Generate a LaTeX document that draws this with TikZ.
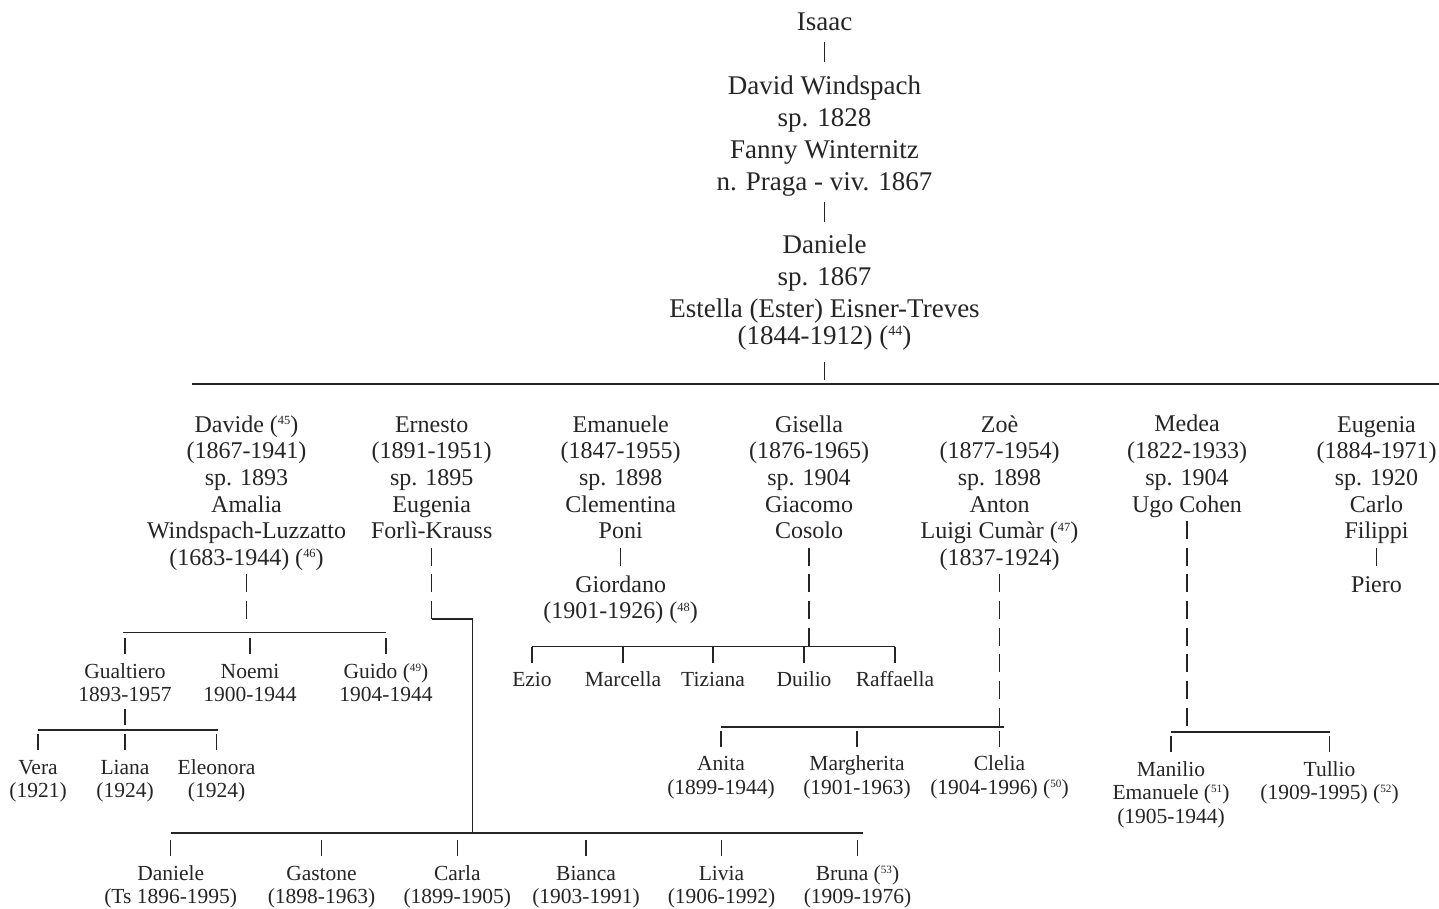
\documentclass[tikz,border=0pt]{standalone}
\usepackage{fontspec}
\setmainfont{Liberation Serif}
\usepackage{graphicx}
% keep every line of a stacked name on the same baseline grid
\setlength{\lineskiplimit}{-100pt}
% footnote call: small raised number between normal parentheses
\newcommand\fn[1]{(\raisebox{0.32em}{\scalebox{0.52}{#1}})}
% struts make the top and bottom of every name block predictable
\newcommand\who[1]{\strut#1\strut}
\definecolor{ink}{RGB}{38,36,37}
\begin{document}
\begin{tikzpicture}[x=1pt,y=-1pt,
  person/.style={anchor=north, align=center, inner sep=0pt, outer sep=0pt, text=ink},
  gentop/.style={person, font=\fontsize{27}{32}\selectfont},
  genmid/.style={person, font=\fontsize{24}{26.7}\selectfont},
  genlow/.style={person, font=\fontsize{21.5}{23.6}\selectfont},
  rule/.style={draw=ink, line width=1.25pt},
  pipes/.style={rule, dash pattern=on 18pt off 8.7pt},
  tick/.style={rule, shorten >=7.1pt}]
\useasboundingbox (0,0) rectangle (1439,908);

% ---------- ancestors ----------
\node[gentop] (isaac)   at (824.5,7.6)   {\who{Isaac}};
\node[gentop] (david)   at (824.5,71.6)  {\who{David Windspach\\sp. 1828\\Fanny Winternitz\\n. Praga - viv. 1867}};
\node[gentop] (daniele) at (824.5,231.1) {\who{Daniele\\sp. 1867\\Estella (Ester) Eisner-Treves\\[-5pt](1844-1912) \fn{44}}};

\coordinate (topL) at (192,384);
\coordinate (topR) at (1439,384);

\draw[rule, shorten <=2.4pt, shorten >=9.6pt] (isaac.south) -- (isaac.south |- david.north);
\draw[rule, shorten <=2.6pt, shorten >=9.1pt] (david.south) -- (david.south |- daniele.north);
\draw[rule, shorten <=8pt, shorten >=4pt] (daniele.south) -- (daniele.south |- topL);
\draw[rule] (topL) -- (topR);

% ---------- children of Daniele ----------
\node[genmid] (davide)   at (246.5,413.3)  {\who{Davide \fn{45}\\(1867-1941)\\sp. 1893\\Amalia\\Windspach-Luzzatto\\(1683-1944) \fn{46}}};
\node[genmid] (ernesto)  at (431.7,413.3)  {\who{Ernesto\\(1891-1951)\\sp. 1895\\Eugenia\\Forlì-Krauss}};
\node[genmid] (emanuele) at (620.7,413.3)  {\who{Emanuele\\(1847-1955)\\sp. 1898\\Clementina\\Poni}};
\node[genmid] (giordano) at (620.7,573.5)  {\who{Giordano\\(1901-1926) \fn{48}}};
\node[genmid] (gisella)  at (809,413.3)    {\who{Gisella\\(1876-1965)\\sp. 1904\\Giacomo\\Cosolo}};
\node[genmid] (zoe)      at (999.5,413.3)  {\who{Zoè\\(1877-1954)\\sp. 1898\\Anton\\Luigi Cumàr \fn{47}\\(1837-1924)}};
\node[genmid] (medea)    at (1187,413.3)   {\who{Medea\\(1822-1933)\\sp. 1904\\Ugo Cohen}};
\node[genmid] (eugenia)  at (1376.5,413.3) {\who{Eugenia\\(1884-1971)\\sp. 1920\\Carlo\\Filippi}};
\node[genmid] (piero)    at (1376.5,573.5) {\who{Piero}};

% family bars
\coordinate (dvL) at (123,632.7);   \coordinate (dvR) at (386,632.7);
\coordinate (guL) at (38,730);      \coordinate (guR) at (218,730);
\coordinate (giL) at (532,646.7);   \coordinate (giR) at (895,646.7);
\coordinate (zoL) at (721,727);     \coordinate (zoR) at (1003.5,727);
\coordinate (meL) at (1171,732);    \coordinate (meR) at (1330,732);
\coordinate (kiL) at (170.7,833);   \coordinate (kiR) at (862.7,833);
\coordinate (ernbend) at (431.7,618.9);
\coordinate (ernturn) at (472.7,618.9);

\foreach \a/\b in {dvL/dvR, guL/guR, giL/giR, zoL/zoR, meL/meR, kiL/kiR}
  \draw[rule] (\a) -- (\b);

% descent lines
\draw[pipes, shorten <=0.7pt, shorten >=13.8pt] (davide.south) -- (davide.south |- dvL);
\draw[pipes, shorten <=0.7pt] (ernesto.south) -- (ernbend);
\draw[rule] (ernbend) -- (ernturn) -- (ernturn |- kiL);
\draw[rule, shorten <=0.7pt, shorten >=8pt] (emanuele.south) -- (emanuele.south |- giordano.north);
\draw[pipes, shorten <=0.7pt, shorten >=1.1pt] (gisella.south) -- (gisella.south |- giL);
\draw[pipes, shorten <=0.7pt, shorten >=1.3pt] (zoe.south) -- (zoe.south |- zoL);
\draw[pipes, shorten <=0.7pt, shorten >=6.3pt] (medea.south) -- (medea.south |- meL);
\draw[rule, shorten <=0.7pt, shorten >=8pt] (eugenia.south) -- (eugenia.south |- piero.north);

% ---------- grandchildren ----------
\node[genlow] (gualtiero) at (125,661.5) {\who{Gualtiero\\1893-1957}};
\node[genlow] (noemi)     at (250,661.5) {\who{Noemi\\1900-1944}};
\node[genlow] (guido)     at (386,661.5) {\who{Guido \fn{49}\\1904-1944}};

\node[genlow] (vera)     at (38,757.5)    {\who{Vera\\(1921)}};
\node[genlow] (liana)    at (125,757.5)   {\who{Liana\\(1924)}};
\node[genlow] (eleonora) at (216.5,757.5) {\who{Eleonora\\(1924)}};

\node[genlow] (ezio)      at (532,670.2) {\who{Ezio}};
\node[genlow] (marcella)  at (623,670.2) {\who{Marcella}};
\node[genlow] (tiziana)   at (713,670.2) {\who{Tiziana}};
\node[genlow] (duilio)    at (804,670.2) {\who{Duilio}};
\node[genlow] (raffaella) at (895,670.2) {\who{Raffaella}};

\node[genlow] (anita)      at (721,754.2)   {\who{Anita\\(1899-1944)}};
\node[genlow] (margherita) at (857,754.2)   {\who{Margherita\\(1901-1963)}};
\node[genlow] (clelia)     at (999.5,754.2) {\who{Clelia\\(1904-1996) \fn{50}}};

\node[genlow] (manilio) at (1171,759.5)   {\who{Manilio\\Emanuele \fn{51}\\(1905-1944)}};
\node[genlow] (tullio)  at (1329.5,759.5) {\who{Tullio\\(1909-1995) \fn{52}}};

\node[genlow] (danielekid) at (170.7,863.5) {\who{Daniele\\(Ts 1896-1995)}};
\node[genlow] (gastone)    at (321.5,863.5) {\who{Gastone\\(1898-1963)}};
\node[genlow] (carla)      at (457.3,863.5) {\who{Carla\\(1899-1905)}};
\node[genlow] (bianca)     at (586,863.5)   {\who{Bianca\\(1903-1991)}};
\node[genlow] (livia)      at (721.5,863.5) {\who{Livia\\(1906-1992)}};
\node[genlow] (bruna)      at (857.5,863.5) {\who{Bruna \fn{53}\\(1909-1976)}};

% Gualtiero's descent
\draw[rule, shorten <=0.5pt, shorten >=4.8pt] (gualtiero.south) -- (gualtiero.south |- guL);

% ticks hanging from the bars
\foreach \k in {gualtiero, noemi, guido}
  \draw[tick, shorten <=5.7pt] (\k.north |- dvL) -- (\k.north);
\foreach \k in {vera, liana, eleonora}
  \draw[tick, shorten <=4.4pt] (\k.north |- guL) -- (\k.north);
\foreach \k in {ezio, marcella, tiziana, duilio, raffaella}
  \draw[tick, shorten <=0.4pt] (\k.north |- giL) -- (\k.north);
\foreach \k in {anita, margherita, clelia}
  \draw[tick, shorten <=4.1pt] (\k.north |- zoL) -- (\k.north);
\foreach \k in {manilio, tullio}
  \draw[tick, shorten <=4.4pt] (\k.north |- meL) -- (\k.north);
\foreach \k in {danielekid, gastone, carla, bianca, livia, bruna}
  \draw[tick, shorten <=7.4pt] (\k.north |- kiL) -- (\k.north);
\end{tikzpicture}
\end{document}
